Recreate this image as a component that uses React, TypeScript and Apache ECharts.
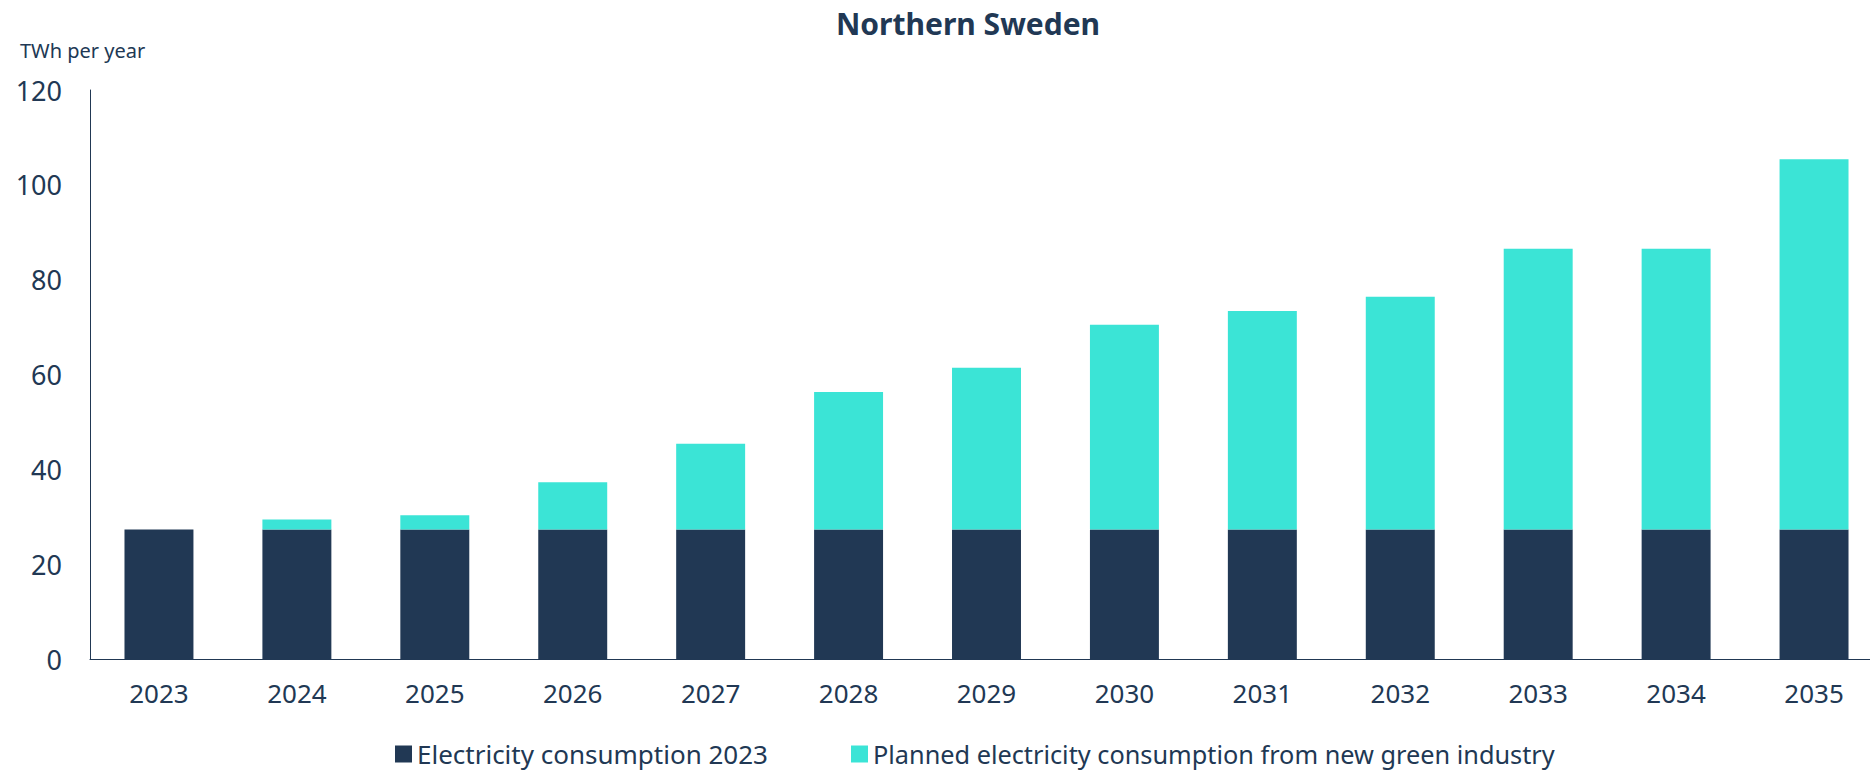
import React, { useEffect, useRef } from "react";
import * as echarts from "echarts";

const years = ["2023", "2024", "2025", "2026", "2027", "2028", "2029", "2030", "2031", "2032", "2033", "2034", "2035"];
const consumption2023 = [27.3, 27.3, 27.3, 27.3, 27.3, 27.3, 27.3, 27.3, 27.3, 27.3, 27.3, 27.3, 27.3];
const plannedNewIndustry = [0, 2.1, 3.0, 10.0, 18.1, 29.0, 34.1, 43.2, 46.1, 49.1, 59.2, 59.2, 78.1];
const seriesNames = ["Electricity consumption 2023", "Planned electricity consumption from new green industry"];

const NAVY = "#213854";
const TEAL = "#3BE4D6";
const FONT = "'Noto Sans', sans-serif";

export default function App() {
  const ref = useRef<HTMLDivElement>(null);
  useEffect(() => {
    if (!ref.current) return;
    const chart = echarts.init(ref.current, null, { renderer: "svg" });
    chart.setOption({
      animation: false,
      textStyle: { fontFamily: FONT, color: NAVY },
      title: [
        {
          text: "Northern Sweden",
          left: 963,
          textAlign: "center",
          top: 3,
          textStyle: { fontFamily: FONT, fontSize: 30, fontWeight: "bold", color: NAVY },
        },
        {
          text: "TWh per year",
          left: 20,
          top: 40,
          padding: 0,
          textStyle: { fontFamily: FONT, fontSize: 20, fontWeight: "normal", color: NAVY },
        },
      ],
      legend: {
        left: 395,
        top: 741,
        icon: "rect",
        itemWidth: 17,
        itemHeight: 17,
        itemGap: 83,
        padding: 0,
        textStyle: { fontFamily: FONT, fontSize: 26, lineHeight: 24, color: NAVY },
        data: [
          { name: seriesNames[0], textStyle: { fontSize: 26 } },
          { name: seriesNames[1], textStyle: { fontSize: 25.3 } },
        ],
      },
      grid: { left: 90, width: 1793, top: 90, bottom: 112, containLabel: false, outerBoundsMode: "none" },
      xAxis: {
        type: "category",
        data: years,
        axisLine: { show: true, lineStyle: { color: NAVY, width: 1 } },
        axisTick: { show: false },
        axisLabel: { fontFamily: FONT, fontSize: 26, color: NAVY, margin: 21 },
      },
      yAxis: {
        type: "value",
        min: 0,
        max: 120,
        interval: 20,
        axisLine: { show: true, lineStyle: { color: NAVY, width: 1 } },
        axisTick: { show: false },
        splitLine: { show: false },
        axisLabel: { fontFamily: FONT, fontSize: 27, color: NAVY, margin: 28 },
      },
      series: [
        {
          name: seriesNames[0],
          type: "bar",
          stack: "total",
          barWidth: "50%",
          itemStyle: { color: NAVY },
          data: consumption2023,
        },
        {
          name: seriesNames[1],
          type: "bar",
          stack: "total",
          barWidth: "50%",
          itemStyle: { color: TEAL },
          data: plannedNewIndustry,
        },
      ],
    });
    return () => chart.dispose();
  }, []);
  return (
    <div
      ref={ref}
      style={{ position: "fixed", left: 0, top: 0, width: 1870, height: 771, background: "#fff" }}
    />
  );
}
